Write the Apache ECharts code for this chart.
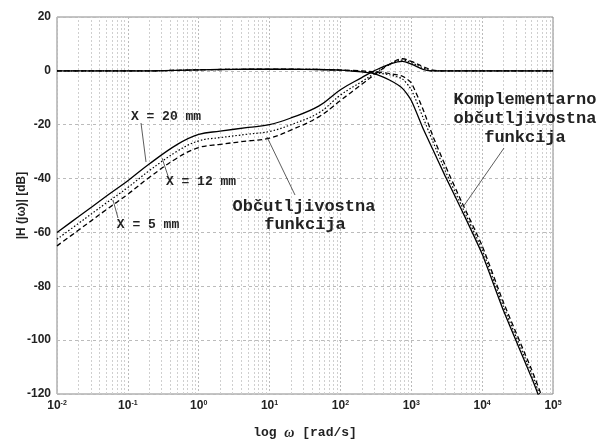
<!DOCTYPE html>
<html><head><meta charset="utf-8">
<script src="https://cdn.jsdelivr.net/npm/echarts@6/dist/echarts.min.js"></script>
<style>html,body{margin:0;padding:0;background:#fff}#c{width:599px;height:439px}</style>
</head><body><div id="c"></div>
<script>
// frequency grid (rad/s)
const omega = [0.01, 0.02, 0.05, 0.1, 0.2, 0.5, 1, 2, 5, 10, 20, 50, 100, 200, 300, 500, 750, 1000, 1500, 2000, 3000, 5000, 10000, 20000, 50000, 70000, 100000];
// Sensitivity function |S(jw)| [dB]
const S_20 = [-60, -54.2, -46.5, -40.8, -34.6, -27.3, -23.6, -22.4, -21, -20, -17.5, -13, -7, -2.5, 0, 2.5, 3.5, 2.5, 0.5, 0, 0, 0, 0, 0, 0, 0, 0];
const S_12 = [-62.5, -56.7, -49, -43.3, -37.1, -29.8, -26, -24.8, -23.5, -22.5, -20, -15.5, -9, -4, -1, 2.5, 4, 3, 1, 0, 0, 0, 0, 0, 0, 0, 0];
const S_5 = [-65, -59.2, -51.5, -45.8, -39.6, -32.3, -28.5, -27.3, -26, -25, -22, -17, -11, -5, -1.5, 2.5, 4.5, 3.5, 1.5, 0.3, 0, 0, 0, 0, 0, 0, 0];
// Complementary sensitivity |T(jw)| [dB]
const T_20 = [0, 0, 0, 0, 0, 0.2, 0.4, 0.5, 0.6, 0.6, 0.6, 0.5, 0.3, -0.4, -1, -3.5, -6.5, -11, -22, -29, -39, -51, -68, -89, -114, -124, null];
const T_12 = [0, 0, 0, 0, 0, 0.2, 0.4, 0.5, 0.6, 0.6, 0.6, 0.5, 0.3, -0.2, -0.6, -1.5, -3, -7, -18, -26, -37, -49.5, -66.5, -87.5, -112.5, -122.5, null];
const T_5 = [0, 0, 0, 0, 0, 0.2, 0.4, 0.5, 0.6, 0.6, 0.6, 0.5, 0.3, 0, -0.3, -1, -2, -4.5, -15, -24, -35, -48, -65, -86, -111, -121, null];
const decades = [-2, -1, 0, 1, 2, 3, 4, 5];

const pairs = v => omega.map((w, i) => [w, v[i]]);
const minorX = [];
decades.slice(0, -1).forEach(d => { for (let k = 2; k <= 9; k++) minorX.push({xAxis: k * Math.pow(10, d)}); });

const solid = {color: '#000', width: 1.3, type: 'solid'};
const dotted = {color: '#000', width: 1.2, type: [1.5, 2]};
const dashed = {color: '#000', width: 1.3, type: [5, 3]};
const mk = (name, v, ls, sm) => ({type: 'line', name, data: pairs(v), showSymbol: false, smooth: sm, lineStyle: ls, clip: true, connectNulls: false, z: 5});

const mono = '"Liberation Mono", "DejaVu Sans Mono", monospace';
const sans = '"Liberation Sans", Arial, sans-serif';
const txt = (x, y, t, fs) => ({type: 'text', x, y, style: {text: t, font: 'bold ' + fs + 'px ' + mono, fill: '#222', textAlign: 'center', textVerticalAlign: 'middle'}, z: 10});
const ln = (x1, y1, x2, y2) => ({type: 'line', shape: {x1, y1, x2, y2}, style: {stroke: '#333', lineWidth: 0.8}, z: 10});

const gridCol = '#cfcfcf';
const chart = echarts.init(document.getElementById('c'), null, {renderer: 'canvas'});
chart.setOption({
  animation: false,
  backgroundColor: '#fff',
  grid: {left: 57, right: 46, top: 17, bottom: 45, show: true, borderColor: '#888', borderWidth: 1,
         containLabel: false, outerBoundsMode: 'none'},
  xAxis: {
    type: 'log', logBase: 10, min: 0.01, max: 100000, splitNumber: 7,
    axisLine: {show: false}, axisTick: {show: false},
    splitLine: {show: true, lineStyle: {color: '#bbb', type: [2, 2], width: 1}},
    axisLabel: {
      margin: 6,
      formatter: v => '{b|10}{e|' + Math.round(Math.log10(v)) + '}',
      rich: {
        b: {fontSize: 12, fontWeight: 'bold', fontFamily: sans, color: '#222', lineHeight: 12, verticalAlign: 'bottom'},
        e: {fontSize: 7, fontWeight: 'bold', fontFamily: sans, color: '#222', lineHeight: 7, padding: [0, 0, 9, 0], verticalAlign: 'top'}
      }
    },
    name: '{a|log }{w|ω}{a| [rad/s]}', nameLocation: 'middle', nameGap: 32, nameMoveOverlap: false,
    nameTextStyle: {rich: {
      a: {fontSize: 13, fontWeight: 'bold', fontFamily: mono, color: '#222'},
      w: {fontSize: 14, fontWeight: 'bold', fontStyle: 'italic', fontFamily: '"Liberation Serif", serif', color: '#222'}
    }}
  },
  yAxis: {
    type: 'value', min: -120, max: 20, interval: 20,
    axisLine: {show: false}, axisTick: {show: false},
    splitLine: {show: true, lineStyle: {color: '#bbb', type: [3, 3], width: 1}},
    axisLabel: {margin: 6, fontSize: 12, fontWeight: 'bold', fontFamily: sans, color: '#222'},
    name: '|H (jω)| [dB]', nameLocation: 'middle', nameGap: 29, nameMoveOverlap: false,
    nameTextStyle: {fontSize: 12, fontWeight: 'bold', fontFamily: sans, color: '#222'}
  },
  series: [
    {type: 'line', data: [], silent: true, markLine: {silent: true, symbol: 'none', label: {show: false},
      lineStyle: {color: gridCol, type: [2, 2], width: 1}, data: minorX}},
    mk('S 20', S_20, solid, 0.4), mk('S 12', S_12, dotted, 0.4), mk('S 5', S_5, dashed, 0.4),
    mk('T 20', T_20, solid, 0.2), mk('T 12', T_12, dotted, 0.2), mk('T 5', T_5, dashed, 0.2)
  ],
  graphic: [
    txt(166, 117, 'X = 20 mm', 13), txt(201, 182, 'X = 12 mm', 13), txt(148, 225, 'X = 5 mm', 13),
    ln(141, 123, 146, 162), ln(162, 158, 168, 176), ln(113, 200, 118, 218),
    txt(304, 207, 'Občutljivostna', 17), txt(305, 225, 'funkcija', 17),
    ln(267, 137, 295, 195),
    txt(525, 100, 'Komplementarno', 17), txt(525, 119, 'občutljivostna', 17), txt(525, 138, 'funkcija', 17),
    ln(504, 148, 463, 207)
  ]
});
</script></body></html>
